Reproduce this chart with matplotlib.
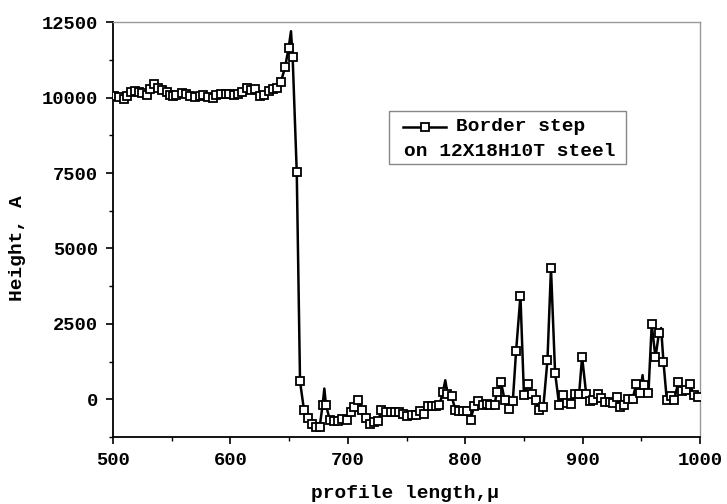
import matplotlib
matplotlib.use("Agg")
import matplotlib.pyplot as plt
from matplotlib.lines import Line2D
from matplotlib.patches import Rectangle
from matplotlib.ticker import MultipleLocator

plt.rcParams['font.family'] = ['Liberation Mono', 'DejaVu Sans Mono']
plt.rcParams['font.weight'] = 'bold'

# measured points (markers)
x_pts = [501, 505, 509, 512, 515, 519, 522, 525, 529, 531.5, 535, 538.6, 542, 545.7, 548.5,
         551.5, 554, 558.5, 562, 565.6, 570, 574, 577, 581, 585, 588, 592, 596, 599, 603,
         606.5, 610, 614, 617.8, 621, 625.6, 629, 632.5, 636.5, 640, 643, 646.5, 649.6, 653,
         656.5, 659.3, 662.7, 666.4, 669.5, 672.5, 676, 678.5, 681.4, 684.8, 688, 692, 694.7,
         699, 702.5, 705.5, 709, 712, 715.5, 719, 722.5, 726, 728.3, 732.5, 736.5, 740, 744,
         747, 750.7, 754.4, 758, 761.5, 765, 768, 771.5, 775, 778, 781, 784.8, 788.4, 791.5,
         795, 798, 801.3, 804.6, 807.5, 811, 815, 818.7, 821.5, 825, 826.8, 830.5, 833.5,
         837.5, 840.5, 843.3, 847, 850, 853.7, 856.6, 860, 863, 866.5, 870, 873, 876.5, 880,
         883.6, 887, 890, 893.5, 897, 899.5, 903, 906, 909, 913, 916, 919, 923, 926, 929, 932,
         935.6, 939, 942.6, 945.5, 949, 952, 956, 958.8, 962, 965, 968.8, 971.6, 975, 978,
         981.5, 985, 988, 991.5, 994.4, 998]
y_pts = [10040, 10030, 9950, 10050, 10180, 10210, 10180, 10160, 10080, 10270, 10440, 10330,
         10250, 10180, 10080, 10060, 10070, 10140, 10120, 10050, 10020, 10050, 10100, 10010,
         9980, 10100, 10130, 10130, 10110, 10100, 10130, 10180, 10330, 10250, 10280, 10050,
         10100, 10220, 10300, 10330, 10520, 11000, 11650, 11350, 7530, 590, -366, -615, -820,
         -910, -920, -200, -200, -700, -720, -720, -640, -700, -420, -255, -10, -366, -610,
         -810, -770, -720, -366, -420, -420, -420, -420, -480, -560, -530, -530, -390, -500,
         -230, -230, -230, -200, 245, 190, 100, -340, -380, -380, -390, -675, -230, -56, -200,
         -150, -200, -200, 245, 565, -20, -320, -60, 1600, 3425, 133, 500, 190, -10, -366,
         -255, 1296, 4345, 875, -200, 133, -120, -145, 166, 190, 1406, 166, -56, -10, 166, 43,
         -90, -90, -120, 77, -255, -176, 20, 20, 500, 210, 465, 210, 2480, 1385, 2205, 1240,
         -10, 100, -10, 575, 275, 300, 520, 133, 77]

# curve maxima between markers (line only)
x_peak = [651.6, 680.0, 783.0, 951.0, 966.8]
y_peak = [12200, 355, 630, 800, 2360]

series_label = "Border step"
series_label2 = "on 12X18H10T steel"

fig = plt.figure(figsize=(7.27, 5.04), dpi=100)
ax = fig.add_axes([0.1554, 0.133, 0.8076, 0.823])

pairs = sorted(list(zip(x_pts, y_pts)) + list(zip(x_peak, y_peak)))
ax.plot([p[0] for p in pairs], [p[1] for p in pairs], color='black', lw=1.8, zorder=2)
ax.plot(x_pts, y_pts, ls='none', marker='s', ms=6, mfc='white', mec='black', mew=1.3, zorder=3)

ax.set_xlim(500, 1000)
ax.set_ylim(-1250, 12500)
ax.xaxis.set_major_locator(MultipleLocator(100))
ax.xaxis.set_minor_locator(MultipleLocator(50))
ax.yaxis.set_major_locator(MultipleLocator(2500))
ax.yaxis.set_minor_locator(MultipleLocator(1250))
ax.tick_params(which='major', direction='out', length=5, width=1.2, labelsize=13.5, pad=6)
ax.tick_params(which='minor', direction='out', length=3, width=1.0)
ax.tick_params(top=False, right=False, which='both')
for t in ax.get_xticklabels() + ax.get_yticklabels():
    t.set_fontweight('bold')

for s in ['left', 'bottom']:
    ax.spines[s].set_color('black')
    ax.spines[s].set_linewidth(1.3)
for s in ['top', 'right']:
    ax.spines[s].set_color('#999999')
    ax.spines[s].set_linewidth(1.0)

fig.text(18 / 727, 1 - 248 / 504, "Height, A", rotation=90, ha='center', va='center',
         fontsize=14, fontweight='bold')
fig.text(405 / 727, 1 - 494 / 504, "profile length,\u03bc", ha='center', va='center',
         fontsize=14, fontweight='bold')

# legend box
W, H = 727.0, 504.0
fig.patches.append(Rectangle((389 / W, 1 - 163.5 / H), (626 - 389) / W, (163.5 - 111) / H,
                             transform=fig.transFigure, fill=True, facecolor='white',
                             edgecolor='#888888', lw=1.0, zorder=5))
fig.lines.append(Line2D([403 / W, 446 / W], [1 - 126.5 / H] * 2, transform=fig.transFigure,
                        color='black', lw=1.8, zorder=6))
fig.lines.append(Line2D([424.5 / W], [1 - 126.5 / H], transform=fig.transFigure, ls='none',
                        marker='s', ms=5.5, mfc='white', mec='black', mew=1.3, zorder=7))
fig.text(456 / W, 1 - 126.5 / H, series_label, ha='left', va='center', fontsize=14,
         fontweight='bold', zorder=8)
fig.text(404 / W, 1 - 152 / H, series_label2, ha='left', va='center', fontsize=14,
         fontweight='bold', zorder=8)

fig.savefig("out.png", dpi=100)
